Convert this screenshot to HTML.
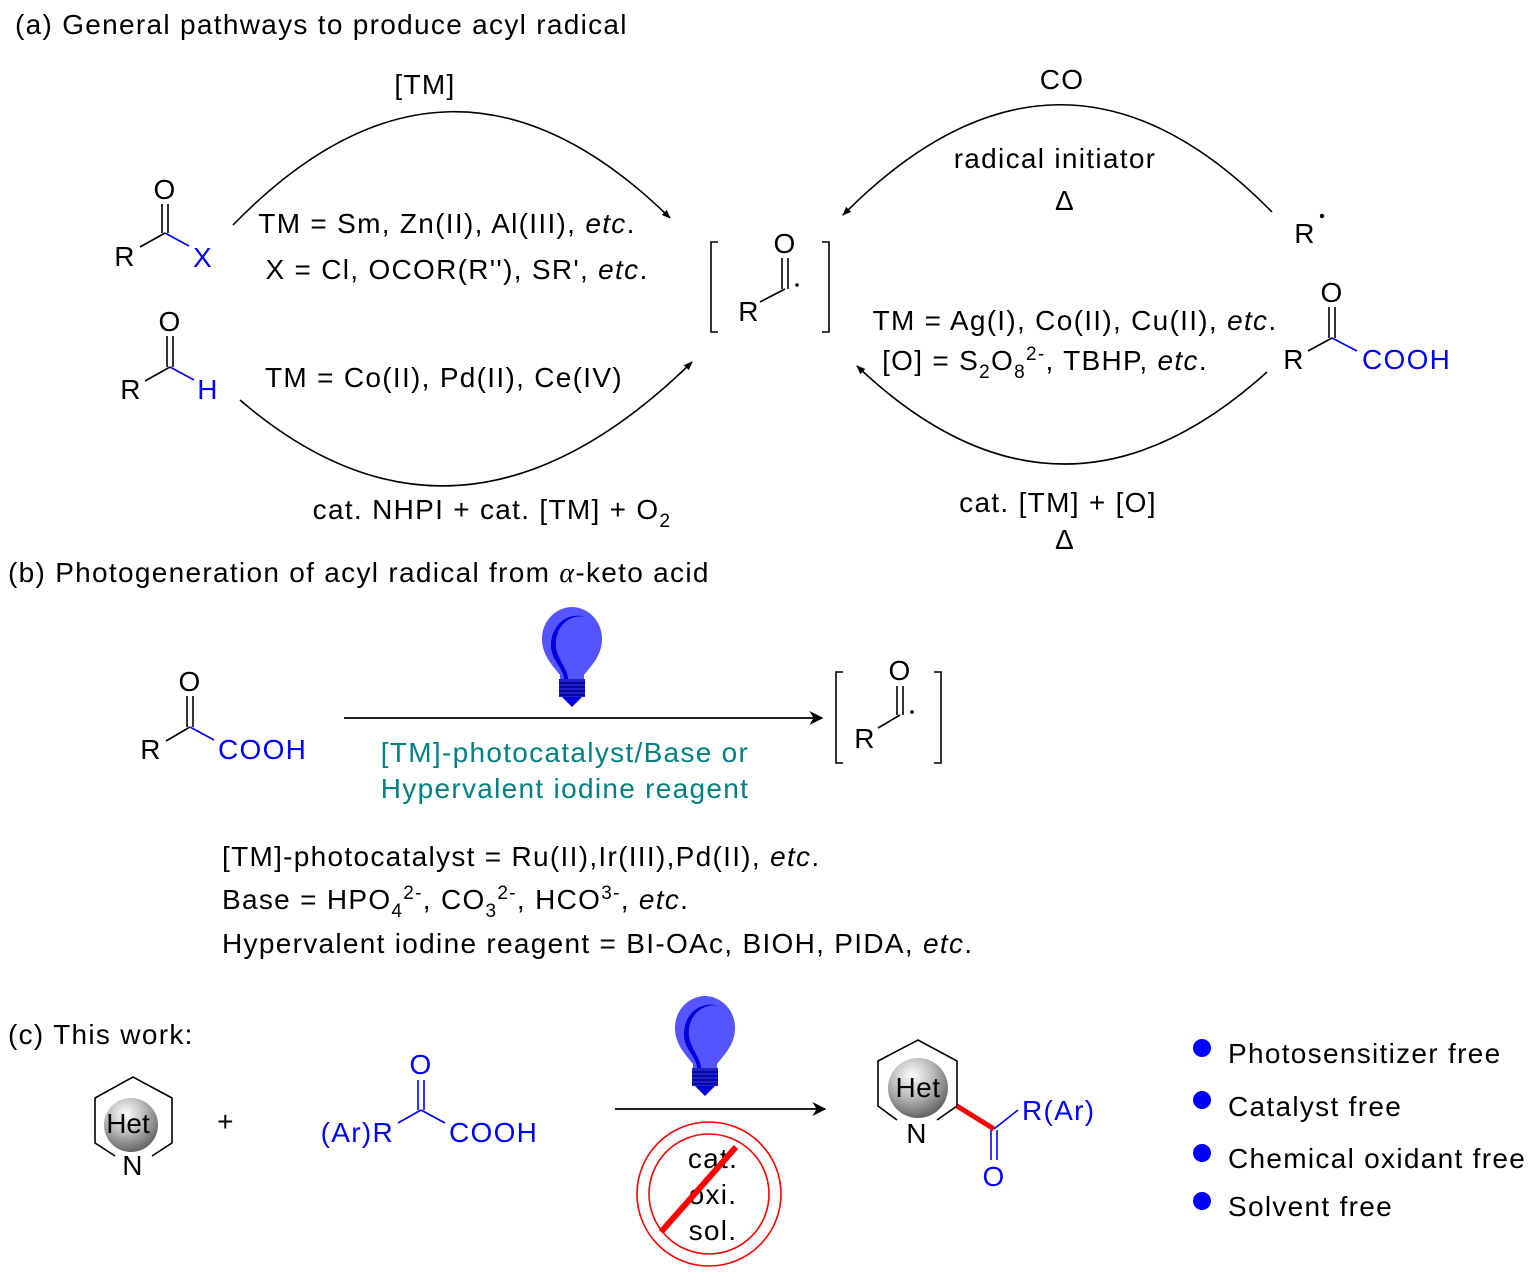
<!DOCTYPE html>
<html><head><meta charset="utf-8"><style>
html,body{margin:0;padding:0;background:#fff}
svg{display:block}
text{font-family:"Liberation Sans",Arial,sans-serif;font-size:28px;letter-spacing:1.3px;fill:#000}
.b{fill:#0000ff}
.t{fill:#008080}
.c{text-anchor:middle}
</style></head><body>
<svg width="1540" height="1276" viewBox="0 0 1540 1276" xmlns="http://www.w3.org/2000/svg">
<defs>
<marker id="ah" viewBox="0 0 10 10" refX="9" refY="5" markerWidth="9" markerHeight="9" markerUnits="userSpaceOnUse" orient="auto"><path d="M0,1 L10,5 L0,9 Z" fill="#000"/></marker>
<marker id="ah2" viewBox="0 0 10 10" refX="9" refY="5" markerWidth="18" markerHeight="14" markerUnits="userSpaceOnUse" orient="auto"><path d="M0,0 L10,5 L0,10 L3,5 Z" fill="#000"/></marker>
<radialGradient id="sph" cx="40%" cy="30%" r="70%"><stop offset="0" stop-color="#fff"/><stop offset="0.5" stop-color="#bbb"/><stop offset="1" stop-color="#666"/></radialGradient>
<g id="bulb">
<path d="M0,0 C-14,0 -30,12 -30,32 C-30,48 -20,58 -12,68 L-12,74 L12,74 L12,68 C20,58 30,48 30,32 C30,12 14,0 0,0 Z" fill="#5555ff"/>
<path d="M14,10 C-4,6 -18,22 -16,40 C-14,54 -4,62 -4,72 L-8,72 C-8,62 -20,54 -21,40 C-22,18 -4,4 14,10 Z" fill="#0000dd"/>
<rect x="-13" y="72" width="26" height="18" fill="#2222cc"/>
<g stroke="#00008b" stroke-width="1.5"><line x1="-13" y1="76" x2="13" y2="76"/><line x1="-13" y1="80" x2="13" y2="80"/><line x1="-13" y1="84" x2="13" y2="84"/><line x1="-13" y1="88" x2="13" y2="88"/></g>
<path d="M-10,90 L10,90 L0,100 Z" fill="#0000dd"/>
</g>
</defs>

<!-- (a) -->
<text x="15" y="34">(a) General pathways to produce acyl radical</text>
<text x="425" y="94" class="c">[TM]</text>
<path d="M233,225 Q450,2 670,218" fill="none" stroke="#000" stroke-width="1.6" marker-end="url(#ah)"/>
<text x="447" y="233" class="c">TM = Sm, Zn(II), Al(III), <tspan font-style="italic">etc</tspan>.</text>
<text x="457" y="279" class="c">X = Cl, OCOR(R''), SR', <tspan font-style="italic">etc</tspan>.</text>
<text x="165" y="199" class="c">O</text>
<g stroke="#000" stroke-width="1.6"><line x1="162" y1="204" x2="162" y2="233"/><line x1="168" y1="204" x2="168" y2="233"/><line x1="140" y1="247" x2="165" y2="233"/></g>
<line x1="165" y1="233" x2="189" y2="246" stroke="#0000ff" stroke-width="1.6"/>
<text x="125" y="266" class="c">R</text>
<text x="203" y="267" class="c b">X</text>
<text x="170" y="331" class="c">O</text>
<g stroke="#000" stroke-width="1.6"><line x1="167" y1="336" x2="167" y2="367"/><line x1="173" y1="336" x2="173" y2="367"/><line x1="145" y1="381" x2="170" y2="367"/></g>
<line x1="170" y1="367" x2="194" y2="380" stroke="#0000ff" stroke-width="1.6"/>
<text x="131" y="399" class="c">R</text>
<text x="208" y="399" class="c b">H</text>
<text x="444" y="387" class="c">TM = Co(II), Pd(II), Ce(IV)</text>
<path d="M240,400 Q460,589 692,362" fill="none" stroke="#000" stroke-width="1.6" marker-end="url(#ah)"/>
<text x="492" y="519" class="c">cat. NHPI + cat. [TM] + O<tspan font-size="19" dy="8">2</tspan></text>
<path d="M718,242 L711,242 L711,332 L718,332 M822,242 L829,242 L829,332 L822,332" fill="none" stroke="#000" stroke-width="1.6"/>
<text x="785" y="253" class="c">O</text>
<g stroke="#000" stroke-width="1.6"><line x1="782" y1="258" x2="782" y2="289"/><line x1="788" y1="258" x2="788" y2="289"/><line x1="760" y1="302" x2="785" y2="289"/></g>
<circle cx="797" cy="285" r="1.8" fill="#000"/>
<text x="749" y="321" class="c">R</text>
<text x="1062" y="89" class="c">CO</text>
<text x="1055" y="168" class="c">radical initiator</text>
<text x="1065" y="210" class="c" font-family="DejaVu Serif, serif">Δ</text>
<path d="M1272,212 Q1060,-4 843,215" fill="none" stroke="#000" stroke-width="1.6" marker-end="url(#ah)"/>
<text x="1305" y="243" class="c">R</text>
<circle cx="1322" cy="216" r="2.2" fill="#000"/>
<text x="1332" y="302" class="c">O</text>
<g stroke="#000" stroke-width="1.6"><line x1="1329" y1="307" x2="1329" y2="338"/><line x1="1335" y1="307" x2="1335" y2="338"/><line x1="1308" y1="351" x2="1332" y2="338"/></g>
<line x1="1332" y1="338" x2="1357" y2="351" stroke="#0000ff" stroke-width="1.6"/>
<text x="1294" y="369" class="c">R</text>
<text x="1362" y="369" class="b">COOH</text>
<text x="1075" y="330" class="c">TM = Ag(I), Co(II), Cu(II), <tspan font-style="italic">etc</tspan>.</text>
<text x="1045" y="370" class="c">[O] = S<tspan font-size="19" dy="8">2</tspan><tspan dy="-8">O</tspan><tspan font-size="19" dy="8">8</tspan><tspan font-size="19" dy="-18">2-</tspan><tspan dy="10">, TBHP, </tspan><tspan font-style="italic">etc</tspan>.</text>
<path d="M1267,372 Q1060,559 857,366" fill="none" stroke="#000" stroke-width="1.6" marker-end="url(#ah)"/>
<text x="1058" y="512" class="c">cat. [TM] + [O]</text>
<text x="1065" y="549" class="c" font-family="DejaVu Serif, serif">Δ</text>

<!-- (b) -->
<text x="8" y="582">(b) Photogeneration of acyl radical from <tspan font-family="Liberation Serif,serif" font-style="italic">α</tspan>-keto acid</text>
<text x="190" y="691" class="c">O</text>
<g stroke="#000" stroke-width="1.6"><line x1="187" y1="696" x2="187" y2="727"/><line x1="193" y1="696" x2="193" y2="727"/><line x1="166" y1="741" x2="190" y2="727"/></g>
<line x1="190" y1="727" x2="214" y2="740" stroke="#0000ff" stroke-width="1.6"/>
<text x="151" y="759" class="c">R</text>
<text x="218" y="759" class="b">COOH</text>
<use href="#bulb" x="572" y="607"/>
<line x1="344" y1="718" x2="822" y2="718" stroke="#000" stroke-width="1.8" marker-end="url(#ah2)"/>
<text x="565" y="762" class="c t">[TM]-photocatalyst/Base or</text>
<text x="565" y="798" class="c t">Hypervalent iodine reagent</text>
<path d="M843,672 L836,672 L836,763 L843,763 M934,672 L941,672 L941,763 L934,763" fill="none" stroke="#000" stroke-width="1.6"/>
<text x="900" y="680" class="c">O</text>
<g stroke="#000" stroke-width="1.6"><line x1="897" y1="686" x2="897" y2="715"/><line x1="903" y1="686" x2="903" y2="715"/><line x1="878" y1="728" x2="900" y2="715"/></g>
<circle cx="912" cy="712" r="1.8" fill="#000"/>
<text x="865" y="748" class="c">R</text>
<text x="222" y="866">[TM]-photocatalyst = Ru(II),Ir(III),Pd(II), <tspan font-style="italic">etc</tspan>.</text>
<text x="222" y="909">Base = HPO<tspan font-size="19" dy="8">4</tspan><tspan font-size="19" dy="-18">2-</tspan><tspan dy="10">, CO</tspan><tspan font-size="19" dy="8">3</tspan><tspan font-size="19" dy="-18">2-</tspan><tspan dy="10">, HCO</tspan><tspan font-size="19" dy="-10">3-</tspan><tspan dy="10">, </tspan><tspan font-style="italic">etc</tspan>.</text>
<text x="222" y="953">Hypervalent iodine reagent = BI-OAc, BIOH, PIDA, <tspan font-style="italic">etc</tspan>.</text>

<!-- (c) -->
<text x="8" y="1044">(c) This work:</text>
<path d="M115,1156 L95,1143 L95,1098 L133,1077 L172,1098 L172,1143 L152,1156" fill="none" stroke="#000" stroke-width="1.6"/>
<circle cx="131" cy="1125" r="27" fill="url(#sph)"/>
<text x="128" y="1133" class="c" font-size="21" style="letter-spacing:0">Het</text>
<text x="133" y="1175" class="c" font-size="20">N</text>
<text x="226" y="1131" class="c">+</text>
<text x="421" y="1074" class="c b">O</text>
<g stroke="#0000ff" stroke-width="1.6"><line x1="418" y1="1080" x2="418" y2="1110"/><line x1="424" y1="1080" x2="424" y2="1110"/><line x1="398" y1="1123" x2="421" y2="1110"/><line x1="421" y1="1110" x2="445" y2="1123"/></g>
<text x="394" y="1142" class="b" text-anchor="end">(Ar)R</text>
<text x="449" y="1142" class="b">COOH</text>
<use href="#bulb" x="705" y="996"/>
<line x1="615" y1="1109" x2="825" y2="1109" stroke="#000" stroke-width="1.8" marker-end="url(#ah2)"/>
<circle cx="709" cy="1194" r="72" fill="none" stroke="#ff0000" stroke-width="1.6"/>
<circle cx="709" cy="1194" r="60" fill="none" stroke="#ff0000" stroke-width="1.6"/>
<text x="713" y="1168" class="c">cat.</text>
<text x="713" y="1204" class="c">oxi.</text>
<text x="713" y="1240" class="c">sol.</text>
<line x1="661" y1="1232" x2="736" y2="1147" stroke="#ff0000" stroke-width="6"/>
<path d="M897,1120 L878,1106 L878,1061 L918,1040 L957,1061 L957,1106 L937,1120" fill="none" stroke="#000" stroke-width="1.6"/>
<circle cx="918" cy="1088" r="30" fill="url(#sph)"/>
<text x="918" y="1097" class="c" font-size="26" style="letter-spacing:0.5px">Het</text>
<text x="917" y="1143" class="c">N</text>
<line x1="957" y1="1106" x2="994" y2="1129" stroke="#ff0000" stroke-width="5"/>
<g stroke="#0000ff" stroke-width="1.6"><line x1="994" y1="1129" x2="1018" y2="1110"/><line x1="991" y1="1130" x2="991" y2="1160"/><line x1="997" y1="1130" x2="997" y2="1160"/></g>
<text x="1022" y="1120" class="b">R(Ar)</text>
<text x="994" y="1186" class="c b">O</text>
<circle cx="1202" cy="1048" r="9" fill="#0000ff"/>
<circle cx="1202" cy="1100" r="9" fill="#0000ff"/>
<circle cx="1202" cy="1153" r="9" fill="#0000ff"/>
<circle cx="1202" cy="1201" r="9" fill="#0000ff"/>
<text x="1228" y="1063">Photosensitizer free</text>
<text x="1228" y="1116">Catalyst free</text>
<text x="1228" y="1168">Chemical oxidant free</text>
<text x="1228" y="1216">Solvent free</text>
</svg>
</body></html>
